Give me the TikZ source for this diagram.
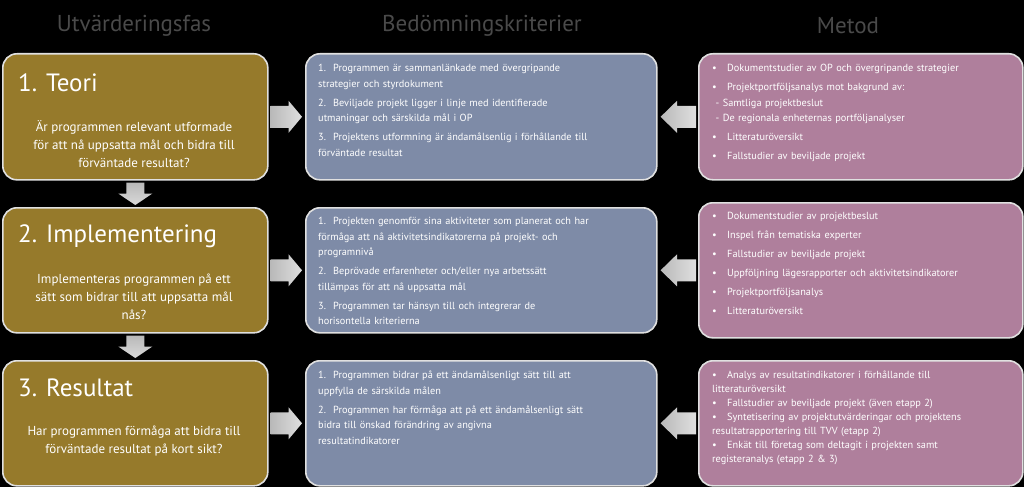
\documentclass[tikz,border=0pt]{standalone}
\usepackage{fontspec}
\setmainfont{PT Sans}
\usetikzlibrary{calc}
\definecolor{gold}{HTML}{967A2B}
\definecolor{bluebox}{HTML}{7E8BA7}
\definecolor{pinkbox}{HTML}{AF7F9C}
\definecolor{head}{HTML}{4A4A4A}
\newcommand{\itm}[2]{\hangindent=15pt\hangafter=1\noindent\makebox[15pt][l]{#1}#2\par\vspace{3.5pt}}
\begin{document}
\begin{tikzpicture}[x=1pt,y=-1pt,
  box/.style={draw=white!88!black,line width=1.6pt,rounded corners=14pt,anchor=north west,inner sep=0pt},
  head/.style={text=head,font=\fontsize{23}{26}\selectfont},
  list/.style={anchor=north west,align=left,text=white,font=\fontsize{10.3}{15.5}\selectfont,inner sep=0pt},
  title/.style={anchor=west,text=white,font=\fontsize{25}{28}\selectfont,inner sep=0pt},
  quest/.style={align=center,text=white,font=\fontsize{13}{18}\selectfont,inner sep=0pt},
  arr/.style={left color=gray!55,right color=gray!25,draw=none}]
\fill[black] (0,0) rectangle (1024,487);
\useasboundingbox (0,0) rectangle (1024,487);
\node[head] (h1) at (134,26) {Utvärderingsfas};
\node[head] (h2) at (482,26) {Bedömningskriterier};
\node[head] (h3) at (848,26) {Metod};
% gold
\node[box,fill=gold,minimum width=265pt,minimum height=126pt] (g1) at (2,53) {};
\node[box,fill=gold,minimum width=265pt,minimum height=125pt] (g2) at (2,207) {};
\node[box,fill=gold,minimum width=265pt,minimum height=125pt] (g3) at (2,360) {};
% blue
\node[box,fill=bluebox,minimum width=351pt,minimum height=126pt] (b1) at (305,53) {};
\node[box,fill=bluebox,minimum width=351pt,minimum height=125pt] (b2) at (305,207) {};
\node[box,fill=bluebox,minimum width=351pt,minimum height=125pt] (b3) at (305,360) {};
% pink
\node[box,fill=pinkbox,minimum width=324pt,minimum height=126pt] (p1) at (698,53) {};
\node[box,fill=pinkbox,minimum width=324pt,minimum height=135pt] (p2) at (698,202) {};
\node[box,fill=pinkbox,minimum width=324pt,minimum height=125pt] (p3) at (698,360) {};
% gold texts
\node[title] (t1) at (18,83) {1. Teori};
\node[quest] (q1) at (134,144) {Är programmen relevant utformade\\för att nå uppsatta mål och bidra till\\förväntade resultat?};
\node[title] (t2) at (18,236) {2. Implementering};
\node[quest] (q2) at (134,297) {Implementeras programmen på ett\\sätt som bidrar till att uppsatta mål\\nås?};
\node[title] (t3) at (18,388) {3. Resultat};
\node[quest] (q3) at (134,441) {Har programmen förmåga att bidra till\\förväntade resultat på kort sikt?};
% blue texts
\node[list,text width=330pt] (l1) at (318,64) {%
\itm{1.}{Programmen är sammanlänkade med övergripande\\strategier och styrdokument}
\itm{2.}{Beviljade projekt ligger i linje med identifierade\\utmaningar och särskilda mål i OP}
\itm{3.}{Projektens utformning är ändamålsenlig i förhållande till\\förväntade resultat}};
\node[list,text width=330pt] (l2) at (318,217) {%
\itm{1.}{Projekten genomför sina aktiviteter som planerat och har\\förmåga att nå aktivitetsindikatorerna på projekt- och\\programnivå}
\itm{2.}{Beprövade erfarenheter och/eller nya arbetssätt\\tillämpas för att nå uppsatta mål}
\itm{3.}{Programmen tar hänsyn till och integrerar de\\horisontella kriterierna}};
\node[list,text width=330pt] (l3) at (318,371) {%
\itm{1.}{Programmen bidrar på ett ändamålsenligt sätt till att\\uppfylla de särskilda målen}
\itm{2.}{Programmen har förmåga att på ett ändamålsenligt sätt\\bidra till önskad förändring av angivna\\resultatindikatorer}};
% pink texts
\node[list,text width=305pt] (m1) at (712,64) {%
\itm{•}{Dokumentstudier av OP och övergripande strategier}
\itm{•}{Projektportföljsanalys mot bakgrund av:\\\ - Samtliga projektbeslut\\\ - De regionala enheternas portföljanalyser}
\itm{•}{Litteraturöversikt}
\itm{•}{Fallstudier av beviljade projekt}};
\node[list,text width=305pt,font=\fontsize{10.3}{15.5}\selectfont] (m2) at (712,212) {%
\itm{•}{Dokumentstudier av projektbeslut}
\itm{•}{Inspel från tematiska experter}
\itm{•}{Fallstudier av beviljade projekt}
\itm{•}{Uppföljning  lägesrapporter och aktivitetsindikatorer}
\itm{•}{Projektportföljsanalys}
\itm{•}{Litteraturöversikt}};
\node[list,text width=305pt,font=\fontsize{10.3}{14}\selectfont] (m3) at (712,371) {%
\itm{•}{Analys av resultatindikatorer i förhållande till\\litteraturöversikt}\vspace{-3.5pt}
\itm{•}{Fallstudier av beviljade projekt (även etapp 2)}\vspace{-3.5pt}
\itm{•}{Syntetisering av projektutvärderingar och projektens\\resultatrapportering till TVV (etapp 2)}\vspace{-3.5pt}
\itm{•}{Enkät till företag som deltagit i projekten samt\\registeranalys (etapp 2 \& 3)}};
% right arrows gold -> blue
\foreach \g/\b in {g1/b1,g2/b2,g3/b3}{
  \path (\g.east) coordinate (s) (\b.west) coordinate (e);
  \fill[arr] ($(s)+(2,-11)$) -- ($(s)+(20,-11)$) -- ($(s)+(20,-16)$) -- ($(e)+(-3,0)$) -- ($(s)+(20,16)$) -- ($(s)+(20,11)$) -- ($(s)+(2,11)$) -- cycle;
}
% left arrows pink -> blue
\foreach \p/\b in {p1/b1,p2/b2,p3/b3}{
  \path (\p.west) coordinate (s) (\b.east) coordinate (e);
  \path (s |- \b.east) coordinate (s);
  \fill[arr] ($(s)+(-2,-11)$) -- ($(s)+(-21,-11)$) -- ($(s)+(-21,-16)$) -- ($(e)+(3,0)$) -- ($(s)+(-21,16)$) -- ($(s)+(-21,11)$) -- ($(s)+(-2,11)$) -- cycle;
}
% down arrows
\foreach \a/\b in {g1/g2,g2/g3}{
  \path (\a.south) coordinate (s) (\b.north) coordinate (e);
  \fill[top color=gray!55,bottom color=gray!30] ($(s)+(-9,2)$) -- ($(s)+(9,2)$) -- ($(s)+(9,13)$) -- ($(s)+(17,13)$) -- ($(e)+(0,-2)$) -- ($(s)+(-17,13)$) -- ($(s)+(-9,13)$) -- cycle;
}
\end{tikzpicture}
\end{document}
